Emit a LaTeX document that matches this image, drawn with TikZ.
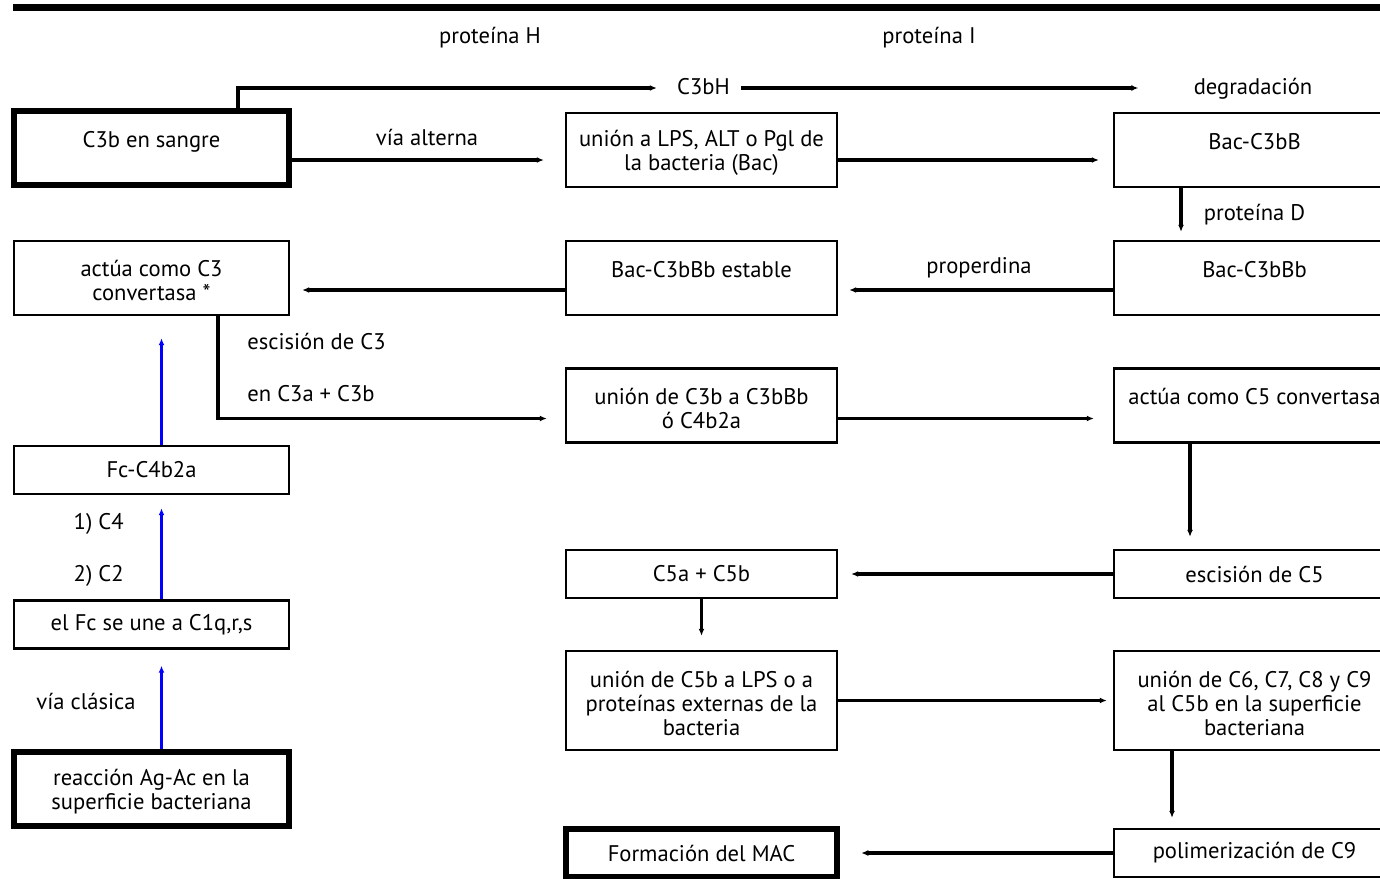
\documentclass[tikz,border=0pt]{standalone}
\usepackage{fontspec}
\setmainfont{PT Sans}
\usetikzlibrary{arrows.meta}
\newcommand{\topline}{\rule{0pt}{11pt}}

\begin{document}
\begin{tikzpicture}[x=0.5pt, y=-0.5pt,
    every node/.style={font=\fontsize{11.3}{12}\selectfont},
    box/.style={draw, line width=1.2pt, inner sep=0pt, align=center},
    bold box/.style={box, line width=3.25pt},
    colA/.style={minimum width=137.5pt},
    colB/.style={minimum width=135.5pt},
    colC/.style={minimum width=140.5pt},
    one/.style={minimum height=24pt},
    two/.style={minimum height=37pt},
    three/.style={minimum height=49.5pt},
    lbl/.style={inner sep=0pt, text height=8pt, text depth=2pt},
    arr/.style={line width=1.6pt, -{Latex[length=3.5pt,width=3pt]}},
    blue arr/.style={arr, blue}]
		\useasboundingbox (0, 0) rectangle (1380, 878);
		\clip (0, 0) rectangle (1380, 878);
		\fill[black] (13, 4) rectangle (1380, 11);

		\node (sangre) at (151.5, 148) [bold box, colA, two] {\topline C3b en sangre\\\mbox{}};
		\node (actua3) at (151.5, 278) [box, colA, two] {\topline actúa como C3\\convertasa *};
		\node (fc) at (151.5, 470) [box, colA, one] {Fc-C4b2a};
		\node (c1q) at (151.5, 624.5) [box, colA, one] {el Fc se une a C1q,r,s};
		\node (reac) at (151.5, 789) [bold box, colA, two] {\topline reacción Ag-Ac en la\\superficie bacteriana};

		\node (union1) at (701.5, 150) [box, colB, two] {\topline unión a LPS, ALT o Pgl de\\la bacteria (Bac)};
		\node (estable) at (701.5, 278) [box, colB, two] {\topline Bac-C3bBb estable\\\mbox{}};
		\node (union2) at (701.5, 405.5) [box, colB, two] {\topline unión de C3b a C3bBb\\ó C4b2a};
		\node (c5ab) at (701.5, 574) [box, colB, one] {C5a + C5b};
		\node (union3) at (701.5, 700.5) [box, colB, three] {\topline unión de C5b a LPS o a\\proteínas externas de la\\bacteria};
		\node (mac) at (701.5, 853) [bold box, colB, one] {Formación del MAC};

		\node (bacB) at (1254.5, 150) [box, colC, two] {\topline Bac-C3bB\\\mbox{}};
		\node (bacBb) at (1254.5, 278) [box, colC, two] {\topline Bac-C3bBb\\\mbox{}};
		\node (actua5) at (1254.5, 405.5) [box, colC, two] {\topline actúa como C5 convertasa\\\mbox{}};
		\node (escC5) at (1254.5, 574) [box, colC, one] {escisión de C5};
		\node (union4) at (1254.5, 700.5) [box, colC, three] {\topline unión de C6, C7, C8 y C9\\al C5b en la superficie\\bacteriana};
		\node (polim) at (1254.5, 853) [box, colC, one] {polimerización de C9};

		\node (protH) at (490, 37) [lbl] {proteína H};
		\node (protI) at (929, 37) [lbl] {proteína I};
		\node (c3bh) at (703.5, 88) [lbl] {C3bH};
		\node (degr) at (1253, 88) [lbl] {degradación};
		\node (alterna) at (427, 139) [lbl] {vía alterna};
		\node (protD) at (1254.5, 214) [lbl] {proteína D};
		\node (properd) at (979, 267) [lbl] {properdina};
		\node (escC3) at (247, 343) [lbl, anchor=west] {escisión de C3};
		\node (enC3) at (247, 395) [lbl, anchor=west] {en C3a + C3b};
		\node (c4) at (124, 523) [lbl, anchor=east] {1) C4};
		\node (c2) at (124, 575) [lbl, anchor=east] {2) C2};
		\node (clasica) at (86, 703) [lbl] {vía clásica};

		\draw[arr, shorten >=10pt] ([xshift=43.25pt]sangre.north) |- (c3bh.west);
		\draw[arr, shorten <=5.5pt, shorten >=27.5pt] (c3bh.east) -- (degr.west);
		\draw[arr, shorten >=10.5pt] ([yshift=-6pt]sangre.east) -- ([yshift=-5pt]union1.west);
		\draw[arr, shorten >=7pt] ([yshift=-5pt]union1.east) -- ([yshift=-5pt]bacB.west);
		\draw[arr, shorten >=4pt] ([xshift=-36.75pt]bacB.south) -- ([xshift=-36.75pt]bacBb.north);
		\draw[arr, shorten >=5.5pt] ([yshift=-6pt]bacBb.west) -- ([yshift=-6pt]estable.east);
		\draw[arr, shorten >=6pt] ([yshift=-6pt]estable.west) -- ([yshift=-6pt]actua3.east);
		\draw[arr, shorten >=9pt] ([xshift=33.25pt]actua3.south) |- ([yshift=-6.5pt]union2.west);
		\draw[arr, shorten >=9.5pt] ([yshift=-6.5pt]union2.east) -- ([yshift=-6.5pt]actua5.west);
		\draw[arr, shorten >=6pt] ([xshift=-32.25pt]actua5.south) -- ([xshift=-32.25pt]escC5.north);
		\draw[arr, shorten >=6.5pt] (escC5.west) -- (c5ab.east);
		\draw[arr, shorten >=7pt] (c5ab.south) -- (union3.north);
		\draw[arr, shorten >=3pt] (union3.east) -- (union4.west);
		\draw[arr, shorten >=5pt] ([xshift=-41.25pt]union4.south) -- ([xshift=-41.25pt]polim.north);
		\draw[arr, shorten >=10.5pt] (polim.west) -- (mac.east);

		\draw[blue arr, shorten >=11pt] ([xshift=5pt]fc.north) -- ([xshift=5pt]actua3.south);
		\draw[blue arr, shorten >=6.5pt] ([xshift=5pt]c1q.north) -- ([xshift=5pt]fc.south);
		\draw[blue arr, shorten >=8pt] ([xshift=5pt]reac.north) -- ([xshift=5pt]c1q.south);
	\end{tikzpicture}
\end{document}
